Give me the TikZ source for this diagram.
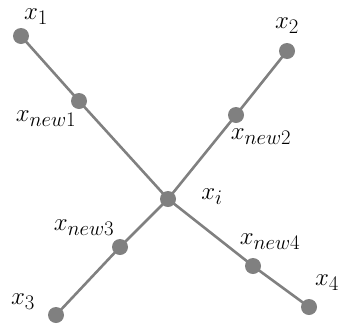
\documentclass[tikz,border=0pt]{standalone}
\begin{document}
\begin{tikzpicture}[x=1pt,y=-1pt,font=\fontsize{28}{32}\selectfont,
  dot/.style={circle,fill=black!50,inner sep=0pt,minimum size=16pt},
  link/.style={draw=black!50,line width=2.6pt}]
  \useasboundingbox (0,0) rectangle (339,327);
  \coordinate (x1) at (21,36);
  \coordinate (xnew1) at (79,101);
  \coordinate (xi) at (168,199);
  \coordinate (xnew4) at (253,266);
  \coordinate (x4) at (309,307);
  \coordinate (x2) at (287,51);
  \coordinate (xnew2) at (236,115);
  \coordinate (xnew3) at (120,247);
  \coordinate (x3) at (56,315);
  % the two broken lines meet in x_i
  \draw[link] (x1) -- (xnew1) -- (xi) -- (xnew4) -- (x4);
  \draw[link] (x2) -- (xnew2) -- (xi) -- (xnew3) -- (x3);
  \foreach \p in {x1,x2,x3,x4,xnew1,xnew2,xnew3,xnew4,xi}
    \node[dot] at (\p) {};
  \node (lx1) at (36,17) {$x_1$};
  \node (lx2) at (287,26) {$x_2$};
  \node (lx3) at (23,302) {$x_3$};
  \node (lx4) at (327,283) {$x_4$};
  \node (lxi) at (212,197) {$x_i$};
  \node (lxnew1) at (46,119) {$x_{new1}$};
  \node (lxnew2) at (261,137) {$x_{new2}$};
  \node (lxnew3) at (84,228) {$x_{new3}$};
  \node (lxnew4) at (270,242) {$x_{new4}$};
\end{tikzpicture}
\end{document}
